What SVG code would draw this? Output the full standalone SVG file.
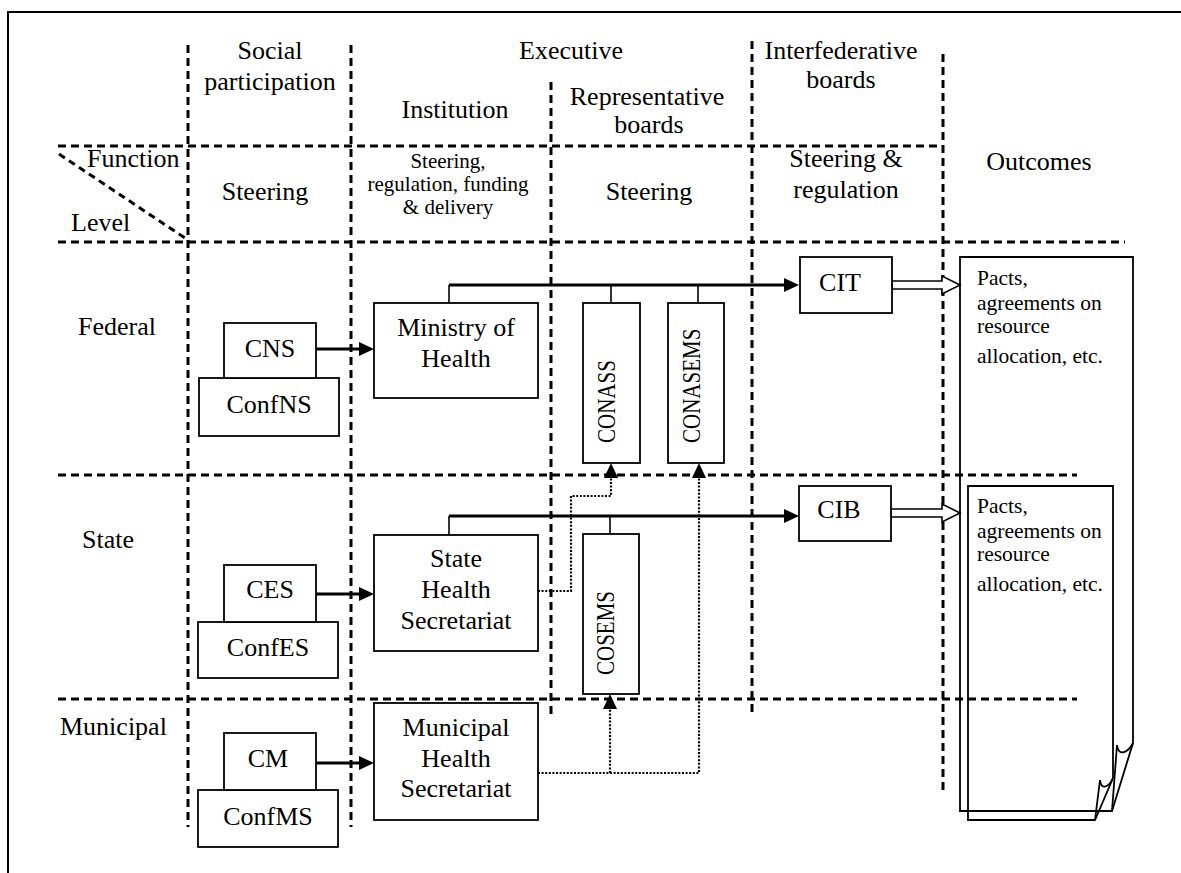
<svg xmlns="http://www.w3.org/2000/svg" width="1181" height="873" viewBox="0 0 1181 873">
<style>
.t{font-family:"Liberation Serif","Times New Roman",serif;font-size:26px;fill:#000}
.s{font-size:21px}
.o{font-size:21.5px}
.r{font-size:21px}
.m{text-anchor:middle}
.box{fill:#fff;stroke:#000;stroke-width:1.8}
.doc{fill:none;stroke:#000;stroke-width:1.8}
.grid{fill:none;stroke:#000;stroke-width:3;stroke-dasharray:8 5}
.thick{fill:none;stroke:#000;stroke-width:3}
.thin{fill:none;stroke:#000;stroke-width:1.6}
.dot{fill:none;stroke:#000;stroke-width:2.2;stroke-dasharray:2 1.6}
.open{fill:#fff;stroke:#000;stroke-width:1.6}
</style>
<defs>
<marker id="ah" markerUnits="userSpaceOnUse" markerWidth="16" markerHeight="16" refX="0" refY="7" orient="auto">
<path d="M0,0 L15,7 L0,14 Z" fill="#000"/>
</marker>
</defs>
<rect width="1181" height="873" fill="#fff"/>
<g id="frame">
<path d="M8,873 V12 H1181" fill="none" stroke="#000" stroke-width="2"/>
</g>
<g id="grid" class="grid">
<line x1="188" y1="45" x2="188" y2="827"/>
<line x1="351" y1="45" x2="351" y2="827"/>
<line x1="551" y1="82" x2="551" y2="717"/>
<line x1="752" y1="41" x2="752" y2="717"/>
<line x1="943" y1="54" x2="943" y2="790"/>
<line x1="58" y1="146" x2="940" y2="146"/>
<line x1="58" y1="242" x2="1125" y2="242"/>
<line x1="58" y1="475" x2="1077" y2="475"/>
<line x1="58" y1="699" x2="1077" y2="699"/>
<line x1="59" y1="154" x2="185" y2="238" stroke-dasharray="7 5"/>
</g>
<g id="headers" class="t">
<text class="m" x="270" y="59">Social</text>
<text class="m" x="270" y="90">participation</text>
<text class="m" x="571" y="59">Executive</text>
<text class="m" x="841" y="59">Interfederative</text>
<text class="m" x="841" y="88">boards</text>
<text class="m" x="455" y="118">Institution</text>
<text class="m" x="647" y="105">Representative</text>
<text class="m" x="649" y="133">boards</text>
<text x="87" y="167">Function</text>
<text x="71" y="231">Level</text>
<text class="m" x="265" y="200">Steering</text>
<text class="m s" x="448" y="168">Steering,</text>
<text class="m s" x="448" y="191">regulation, funding</text>
<text class="m s" x="448" y="214">&amp; delivery</text>
<text class="m" x="649" y="200">Steering</text>
<text class="m" x="846" y="167">Steering &amp;</text>
<text class="m" x="846" y="198">regulation</text>
<text class="m" x="1039" y="170">Outcomes</text>
<text x="78" y="335">Federal</text>
<text x="82" y="548">State</text>
<text x="60" y="735">Municipal</text>
</g>
<g id="connectors">
<path class="thin" d="M449,303 V285"/>
<path class="thick" d="M449,285 H784" marker-end="url(#ah)"/>
<path class="thin" d="M611,285 V303 M698,285 V303"/>
<path class="thin" d="M449,535 V516"/>
<path class="thick" d="M449,516 H784" marker-end="url(#ah)"/>
<path class="thin" d="M610,516 V534"/>
<path class="thick" d="M316,349 H359" marker-end="url(#ah)"/>
<path class="thick" d="M316,594 H359" marker-end="url(#ah)"/>
<path class="thick" d="M316,763 H359" marker-end="url(#ah)"/>
<path class="dot" d="M538,591 H571 V496 H611 V478" marker-end="url(#ah)"/>
<path class="dot" d="M538,773 H699 V478" marker-end="url(#ah)"/>
<path class="dot" d="M610,773 V709" marker-end="url(#ah)"/>
<polygon class="open" points="892,281 942,281 942,276 960,285 942,294 942,289 892,289"/>
<polygon class="open" points="891,509 942,509 942,504 960,513 942,522 942,517 891,517"/>
</g>
<g id="node-confns"><rect class="box" x="199" y="378" width="140" height="58"/><text class="t m" x="269" y="413">ConfNS</text></g>
<g id="node-cns"><rect class="box" x="224" y="323" width="92" height="55"/><text class="t m" x="270" y="357">CNS</text></g>
<g id="node-moh"><rect class="box" x="374" y="303" width="164" height="95"/><text class="t m" x="456" y="336">Ministry of</text><text class="t m" x="456" y="367">Health</text></g>
<g id="node-conass"><rect class="box" x="583" y="303" width="57" height="160"/><text class="t r" transform="translate(615,443) rotate(-90) scale(1,1.2)">CONASS</text></g>
<g id="node-conasems"><rect class="box" x="668" y="303" width="56" height="160"/><text class="t r" transform="translate(700,443) rotate(-90) scale(1,1.2)">CONASEMS</text></g>
<g id="node-cit"><rect class="box" x="800" y="257" width="92" height="56"/><text class="t m" x="840" y="291">CIT</text></g>
<g id="node-outcome-federal">
<path class="doc" d="M960,257 H1133 V743 L1112,811 H960 Z"/>
<path class="doc" d="M1117,745 C1118,757 1128,753 1133,743 M1117,745 L1112,811"/>
<text class="t o" x="977" y="285">Pacts,</text>
<text class="t o" x="977" y="310">agreements on</text>
<text class="t o" x="977" y="333">resource</text>
<text class="t o" x="977" y="363">allocation, etc.</text>
</g>
<g id="node-confes"><rect class="box" x="198" y="622" width="140" height="56"/><text class="t m" x="268" y="656">ConfES</text></g>
<g id="node-ces"><rect class="box" x="224" y="565" width="92" height="57"/><text class="t m" x="270" y="598">CES</text></g>
<g id="node-ssh"><rect class="box" x="374" y="535" width="164" height="116"/><text class="t m" x="456" y="567">State</text><text class="t m" x="456" y="598">Health</text><text class="t m" x="456" y="629">Secretariat</text></g>
<g id="node-cosems"><rect class="box" x="583" y="534" width="56" height="160"/><text class="t r" transform="translate(614,675) rotate(-90) scale(1,1.2)">COSEMS</text></g>
<g id="node-cib"><rect class="box" x="799" y="486" width="92" height="55"/><text class="t m" x="839" y="518">CIB</text></g>
<g id="node-outcome-state">
<path class="doc" d="M968,486 H1113 V778 L1095,820 H968 Z"/>
<path class="doc" d="M1100,780 C1101,791 1109,787 1113,778 M1100,780 L1095,820"/>
<text class="t o" x="977" y="513">Pacts,</text>
<text class="t o" x="977" y="538">agreements on</text>
<text class="t o" x="977" y="561">resource</text>
<text class="t o" x="977" y="591">allocation, etc.</text>
</g>
<g id="node-confms"><rect class="box" x="198" y="790" width="140" height="57"/><text class="t m" x="268" y="825">ConfMS</text></g>
<g id="node-cm"><rect class="box" x="224" y="733" width="92" height="57"/><text class="t m" x="268" y="767">CM</text></g>
<g id="node-msh"><rect class="box" x="374" y="703" width="164" height="117"/><text class="t m" x="456" y="736">Municipal</text><text class="t m" x="456" y="767">Health</text><text class="t m" x="456" y="797">Secretariat</text></g>
</svg>
